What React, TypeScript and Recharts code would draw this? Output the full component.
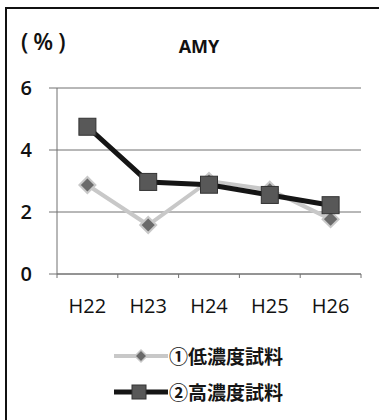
import React from 'react';
import { LineChart, Line, XAxis, YAxis, CartesianGrid, Legend } from 'recharts';

// Fiscal years (Heisei) on the category axis
const categories = ['H22', 'H23', 'H24', 'H25', 'H26'];
// ① low-concentration sample, %
const lowSeries = [2.87, 1.58, 3.0, 2.72, 1.77];
// ② high-concentration sample, %
const highSeries = [4.75, 2.97, 2.88, 2.55, 2.22];
const yTicks = [0, 2, 4, 6];
const seriesNames = ['①低濃度試料', '②高濃度試料'];

const data = categories.map((cat, i) => ({
  pos: i + 0.5,
  cat,
  low: lowSeries[i],
  high: highSeries[i],
}));

// Integer ticks mark the category boundaries, half ticks carry the labels
const xTicks = categories.flatMap((_, i) => [i, i + 0.5]).concat(categories.length);

const FONT = '"Open Sans", "Noto Sans CJK JP", sans-serif';
const AXIS = '#707070';

const XTick = (props: any) => {
  const { x, y, payload } = props;
  const v = payload.value as number;
  if (Number.isInteger(v)) {
    return <line x1={x} x2={x} y1={y} y2={y + 4} stroke={AXIS} strokeWidth={1} />;
  }
  return (
    <text x={x} y={y + 39} textAnchor="middle" fontFamily={FONT} fontSize={20} fontWeight={500} fill="#111">
      {categories[Math.floor(v)]}
    </text>
  );
};

const Diamond = ({ cx, cy, r, keyName }: any) => (
  <polygon
    key={keyName}
    points={`${cx},${cy - r} ${cx + r},${cy} ${cx},${cy + r} ${cx - r},${cy}`}
    fill="#6a6a6a"
    stroke="#c8c8c8"
    strokeWidth={2}
  />
);

const Square = ({ cx, cy, s, keyName }: any) => (
  <rect
    key={keyName}
    x={cx - s / 2}
    y={cy - s / 2}
    width={s}
    height={s}
    fill="#585858"
    stroke="#333"
    strokeWidth={1}
  />
);

const renderLowDot = (p: any) => <Diamond keyName={`low-${p.index}`} cx={p.cx} cy={p.cy} r={8} />;
const renderHighDot = (p: any) => <Square keyName={`high-${p.index}`} cx={p.cx} cy={p.cy} s={17} />;

const legendText: React.CSSProperties = {
  fontSize: 19,
  fontWeight: 700,
  color: '#151515',
  marginLeft: 1,
  lineHeight: '22px',
};

const LegendContent = () => (
  <div style={{ height: 96, position: 'relative', fontFamily: '"Noto Sans CJK JP", sans-serif' }}>
    <div style={{ position: 'absolute', left: 114, top: 21, height: 22, display: 'flex', alignItems: 'center' }}>
      <svg width={54} height={22}>
        <line x1={0} x2={54} y1={11} y2={11} stroke="#c8c8c8" strokeWidth={4} />
        <polygon points="27,5 33,11 27,17 21,11" fill="#6a6a6a" stroke="#c8c8c8" strokeWidth={1.5} />
      </svg>
      <span style={legendText}>{seriesNames[0]}</span>
    </div>
    <div style={{ position: 'absolute', left: 114, top: 57, height: 22, display: 'flex', alignItems: 'center' }}>
      <svg width={54} height={22}>
        <line x1={0} x2={54} y1={11} y2={11} stroke="#151515" strokeWidth={5} />
        <rect x={18} y={4} width={14} height={14} fill="#585858" stroke="#333" strokeWidth={1} />
      </svg>
      <span style={legendText}>{seriesNames[1]}</span>
    </div>
  </div>
);

export default function App() {
  return (
    <div style={{ position: 'absolute', left: 0, top: 0, width: 379, height: 420, background: '#fff', overflow: 'hidden' }}>
      <div
        style={{
          position: 'absolute',
          left: 5,
          top: 7,
          width: 420,
          height: 440,
          borderLeft: '2px solid #111',
          borderTop: '2px solid #111',
        }}
      />
      <div
        style={{
          position: 'absolute',
          left: 21,
          top: 26,
          fontFamily: FONT,
          fontSize: 23,
          fontWeight: 600,
          letterSpacing: 5,
          color: '#111',
          lineHeight: '30px',
        }}
      >
        (%)
      </div>
      <div
        style={{
          position: 'absolute',
          left: 149,
          top: 34,
          width: 100,
          textAlign: 'center',
          fontFamily: FONT,
          fontWeight: 700,
          fontSize: 18,
          color: '#111',
          lineHeight: '24px',
        }}
      >
        AMY
      </div>
      <LineChart
        width={379}
        height={420}
        data={data}
        margin={{ top: 88, right: 18, left: 0, bottom: 0 }}
        style={{ position: 'absolute', left: 0, top: 0 }}
      >
        <CartesianGrid vertical={false} stroke={AXIS} strokeWidth={1} />
        <XAxis
          dataKey="pos"
          type="number"
          domain={[0, categories.length]}
          ticks={xTicks}
          interval={0}
          tick={<XTick />}
          tickLine={false}
          tickSize={0}
          tickMargin={0}
          axisLine={{ stroke: AXIS, strokeWidth: 1 }}
          height={50}
        />
        <YAxis
          domain={[0, 6]}
          ticks={yTicks}
          interval={0}
          width={57}
          tickSize={8}
          tickMargin={17}
          axisLine={{ stroke: AXIS, strokeWidth: 1 }}
          tickLine={{ stroke: AXIS, strokeWidth: 1 }}
          tick={{ fontFamily: FONT, fontSize: 20, fontWeight: 600, fill: '#111' }}
        />
        <Legend verticalAlign="bottom" content={<LegendContent />} />
        <Line
          dataKey="low"
          name={seriesNames[0]}
          stroke="#c8c8c8"
          strokeWidth={4}
          dot={renderLowDot}
          activeDot={false}
          isAnimationActive={false}
        />
        <Line
          dataKey="high"
          name={seriesNames[1]}
          stroke="#151515"
          strokeWidth={5}
          dot={renderHighDot}
          activeDot={false}
          isAnimationActive={false}
        />
      </LineChart>
    </div>
  );
}
